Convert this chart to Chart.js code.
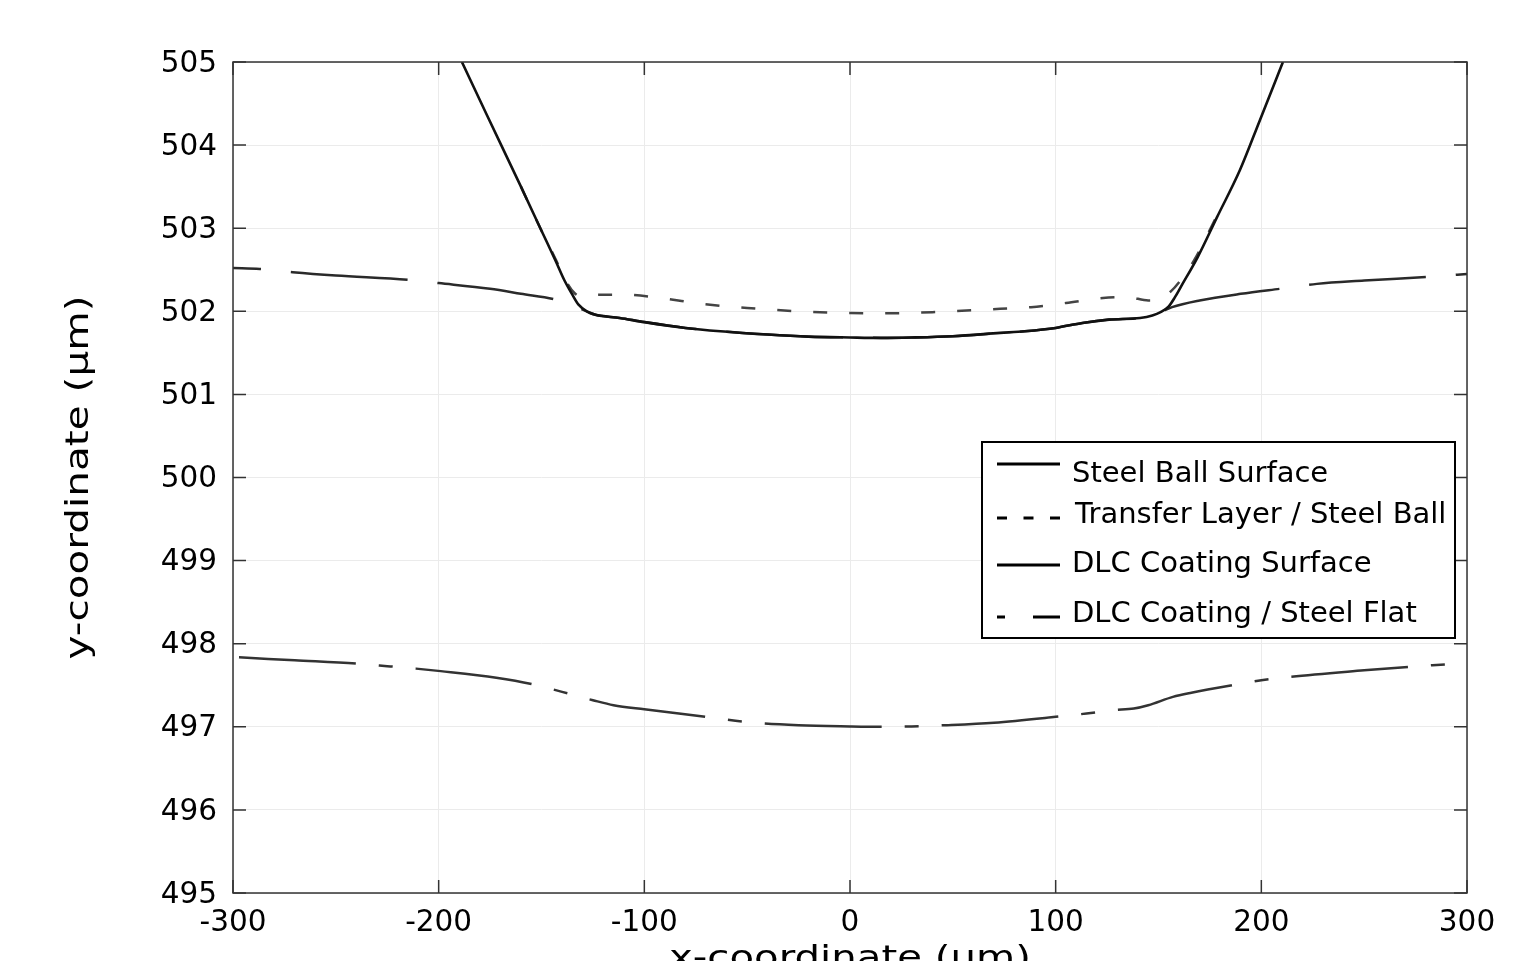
<!DOCTYPE html>
<html>

<head>
  <title>Contact profile with Chart.js</title>
  <script src="https://cdn.jsdelivr.net/npm/chart.js"></script>
</head>

<body style="margin:0;background:#fff;">
  <canvas id="profileChart" width="1539" height="961"></canvas>
  <script>
    // axis ticks
    var xTicks = [-300, -200, -100, 0, 100, 200, 300];
    var yTicks = [495, 496, 497, 498, 499, 500, 501, 502, 503, 504, 505];

    var seriesNames = ['Steel Ball Surface', 'Transfer Layer / Steel Ball', 'DLC Coating Surface', 'DLC Coating / Steel Flat'];

    // steel ball surface (um)
    var ballX = [-188.7, -176.5, -160, -150, -143, -139, -135, -132, -128, -124, -112, -100, -80, -63, -40, -20, 0, 15, 30, 50, 73, 85, 100, 113, 126, 141, 147, 151, 155, 158, 161, 169, 178.4, 189.6, 199.3, 210.5];
    var ballY = [505, 504.36, 503.5, 502.97, 502.6, 502.38, 502.2, 502.08, 502.0, 501.96, 501.92, 501.87, 501.8, 501.76, 501.72, 501.695, 501.685, 501.68, 501.685, 501.7, 501.74, 501.76, 501.8, 501.86, 501.9, 501.92, 501.95, 501.99, 502.06, 502.17, 502.3, 502.65, 503.13, 503.7, 504.3, 505];

    // transfer layer / steel ball interface
    var transferX = [-160, -150, -143, -138, -134, -131, -122, -110, -92, -72, -50, -25, 0, 15, 40, 73, 88, 105, 123, 135, 145, 151, 156, 160, 167, 178];
    var transferY = [503.5, 502.97, 502.62, 502.36, 502.22, 502.18, 502.2, 502.2, 502.16, 502.09, 502.04, 502.0, 501.98, 501.975, 501.99, 502.03, 502.05, 502.1, 502.16, 502.17, 502.13, 502.15, 502.24, 502.35, 502.6, 503.13];

    // DLC coating surface
    var dlcX = [-300, -287, -271, -250, -215, -200, -175, -160, -143, -136, -131, -128, -124, -112, -100, -80, -63, -40, -20, 0, 15, 30, 50, 73, 85, 100, 113, 126, 141, 147, 151, 156.6, 170, 190, 212, 227, 250, 284, 300];
    var dlcY = [502.52, 502.51, 502.47, 502.43, 502.38, 502.34, 502.27, 502.21, 502.14, 502.08, 502.03, 502.0, 501.96, 501.92, 501.87, 501.8, 501.76, 501.72, 501.695, 501.685, 501.68, 501.685, 501.7, 501.74, 501.76, 501.8, 501.86, 501.9, 501.92, 501.95, 501.99, 502.05, 502.13, 502.21, 502.28, 502.33, 502.37, 502.42, 502.45];

    // DLC coating / steel flat interface
    var flatX = [-300, -270, -240, -225, -211, -199, -172, -154, -140, -125, -115, -100, -70, -51, -25, 0, 16, 30, 47, 70, 100, 115, 128, 138, 145, 157, 166, 188, 200, 250, 300];
    var flatY = [497.84, 497.8, 497.76, 497.73, 497.7, 497.67, 497.59, 497.51, 497.42, 497.32, 497.26, 497.21, 497.12, 497.06, 497.02, 497.005, 497.0, 497.005, 497.02, 497.05, 497.12, 497.16, 497.2, 497.22, 497.26, 497.36, 497.41, 497.51, 497.56, 497.68, 497.77];

    function pts(xs, ys) {
      return xs.map(function (v, i) { return { x: v, y: ys[i] }; });
    }

    var FONT = 'DejaVu Sans';

    // box, inward ticks, axis titles, legend
    var framePlugin = {
      id: 'frame',
      afterDraw: function (chart) {
        var ctx = chart.ctx, a = chart.chartArea, xs = chart.scales.x, ys = chart.scales.y;
        ctx.save();
        ctx.strokeStyle = '#333';
        ctx.lineWidth = 1.5;
        ctx.strokeRect(a.left, a.top, a.right - a.left, a.bottom - a.top);
        ctx.beginPath();
        xTicks.forEach(function (v) {
          var px = xs.getPixelForValue(v);
          ctx.moveTo(px, a.bottom); ctx.lineTo(px, a.bottom - 13);
          ctx.moveTo(px, a.top); ctx.lineTo(px, a.top + 13);
        });
        yTicks.forEach(function (v) {
          var py = ys.getPixelForValue(v);
          ctx.moveTo(a.left, py); ctx.lineTo(a.left + 13, py);
          ctx.moveTo(a.right, py); ctx.lineTo(a.right - 13, py);
        });
        ctx.stroke();

        // axis titles (stretched to the reference length)
        ctx.fillStyle = '#000';
        ctx.font = '32px "' + FONT + '"';
        ctx.textAlign = 'center';
        ctx.textBaseline = 'alphabetic';
        var xt = 'x-coordinate (\u03bcm)';
        var sx = 362 / ctx.measureText(xt).width;
        ctx.save();
        ctx.translate((a.left + a.right) / 2, 968);
        ctx.scale(sx, 1);
        ctx.fillText(xt, 0, 0);
        ctx.restore();
        var yt = 'y-coordinate (\u03bcm)';
        var sy = 364 / ctx.measureText(yt).width;
        ctx.save();
        ctx.translate(88, (a.top + a.bottom) / 2);
        ctx.rotate(-Math.PI / 2);
        ctx.scale(sy, 1);
        ctx.fillText(yt, 0, 0);
        ctx.restore();

        // legend box
        ctx.fillStyle = '#fff';
        ctx.fillRect(982, 442, 473, 196);
        ctx.strokeStyle = '#000';
        ctx.lineWidth = 2;
        ctx.strokeRect(982, 442, 473, 196);
        var lineRows = [464, 518, 565, 617];
        var textRows = [482, 523, 572, 622];
        var dashes = [[], [10, 16.5], [], [8, 28, 27, 100]];
        ctx.font = '29px "' + FONT + '"';
        ctx.textAlign = 'left';
        ctx.textBaseline = 'alphabetic';
        chart.data.datasets.forEach(function (ds, i) {
          ctx.beginPath();
          ctx.setLineDash(dashes[i]);
          ctx.lineWidth = 3;
          ctx.strokeStyle = '#000';
          ctx.moveTo(997, lineRows[i]);
          ctx.lineTo(1060, lineRows[i]);
          ctx.stroke();
          ctx.setLineDash([]);
          ctx.fillStyle = '#000';
          ctx.fillText(ds.label, i === 1 ? 1075 : 1072, textRows[i]);
        });
        ctx.restore();
      }
    };

    var ctx = document.getElementById('profileChart').getContext('2d');
    var chart = new Chart(ctx, {
      type: 'line',
      data: {
        datasets: [{
          label: seriesNames[0],
          data: pts(ballX, ballY),
          borderColor: '#111',
          borderWidth: 2.6,
          pointRadius: 0,
          cubicInterpolationMode: 'monotone'
        }, {
          label: seriesNames[1],
          data: pts(transferX, transferY),
          borderColor: '#444',
          borderWidth: 2.5,
          borderDash: [14, 22],
          pointRadius: 0,
          cubicInterpolationMode: 'monotone'
        }, {
          label: seriesNames[2],
          data: pts(dlcX, dlcY),
          borderColor: '#2a2a2a',
          borderWidth: 2.5,
          borderDash: [117, 30],
          borderDashOffset: 89,
          pointRadius: 0,
          cubicInterpolationMode: 'monotone'
        }, {
          label: seriesNames[3],
          data: pts(flatX, flatY),
          borderColor: '#333',
          borderWidth: 2.5,
          borderDash: [117, 23, 14, 23],
          borderDashOffset: 171,
          pointRadius: 0,
          cubicInterpolationMode: 'monotone'
        }]
      },
      options: {
        responsive: false,
        animation: false,
        devicePixelRatio: 1,
        layout: { padding: { left: 0, top: 62, right: 72, bottom: 0 } },
        plugins: {
          legend: { display: false },
          tooltip: { enabled: false }
        },
        scales: {
          x: {
            type: 'linear',
            min: -300,
            max: 300,
            afterBuildTicks: function (s) { s.ticks = xTicks.map(function (v) { return { value: v }; }); },
            afterFit: function (s) { s.height = 68; },
            grid: { color: '#ebebeb', lineWidth: 1, drawTicks: false },
            border: { display: false },
            ticks: { font: { family: FONT, size: 29.5 }, color: '#000', padding: 13, maxRotation: 0, autoSkip: false }
          },
          y: {
            min: 495,
            max: 505,
            afterBuildTicks: function (s) { s.ticks = yTicks.map(function (v) { return { value: v }; }); },
            afterFit: function (s) { s.width = 233; },
            grid: { color: '#ebebeb', lineWidth: 1, drawTicks: false },
            border: { display: false },
            ticks: { font: { family: FONT, size: 29.5 }, color: '#000', padding: 16, labelOffset: 2, autoSkip: false }
          }
        }
      },
      plugins: [framePlugin]
    });
  </script>
</body>

</html>
